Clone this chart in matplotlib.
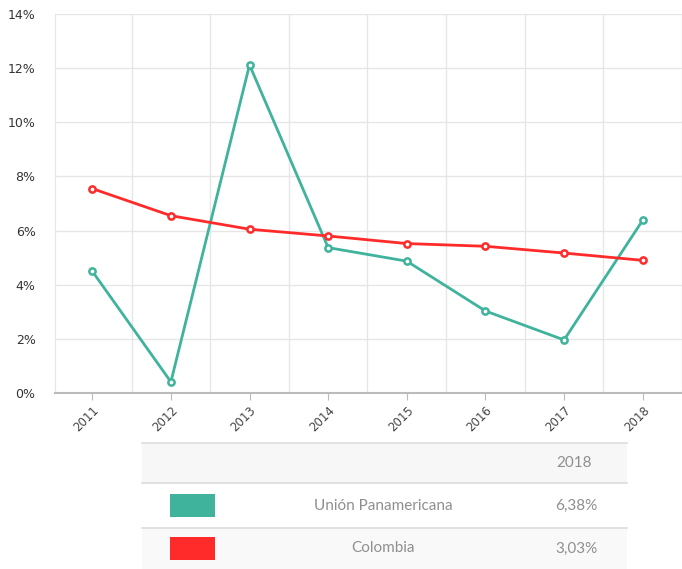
import matplotlib
matplotlib.use("Agg")
import matplotlib.pyplot as plt
from matplotlib.patches import Rectangle
from matplotlib.lines import Line2D
import numpy as np

years = ["2011", "2012", "2013", "2014", "2015", "2016", "2017", "2018"]
union = [4.50, 0.41, 12.12, 5.37, 4.87, 3.03, 1.96, 6.38]
colombia = [7.55, 6.55, 6.05, 5.80, 5.52, 5.42, 5.17, 4.90]
y_ticks = [0, 2, 4, 6, 8, 10, 12, 14]
table_header = "2018"
table_names = ["Unión Panamericana", "Colombia"]
table_values = ["6,38%", "3,03%"]

teal = "#3fb39b"
red = "#ff2b2b"
W, H = 682, 569

plt.rcParams["font.family"] = ["DejaVu Sans"]
fig = plt.figure(figsize=(W / 100, H / 100), dpi=100)
ax = fig.add_axes([55 / W, (H - 393) / H, (W - 55) / W, (393 - 14) / H])

x = np.arange(len(years))
ax.plot(x, union, color=teal, lw=2, marker="o", ms=4.5, mfc="white", mec=teal, mew=1.8, zorder=3)
ax.plot(x, colombia, color=red, lw=2, marker="o", ms=4.5, mfc="white", mec=red, mew=1.8, zorder=4)

ax.set_xlim(-(93 - 55) / 80.2, (682 - 93) / 80.2)
ax.set_ylim(0, 14)
ax.set_yticks(y_ticks)
ax.set_yticklabels([f"{v}%" for v in y_ticks], fontsize=9, color="#333333")
ax.set_xticks(x)
ax.set_xticklabels(years, rotation=45, ha="right", rotation_mode="anchor", fontsize=8.5, color="#444444")
ax.set_xticks(x + 0.5, minor=True)
ax.grid(True, which="major", axis="y", color="#e6e6e6", lw=1)
ax.grid(True, which="minor", axis="x", color="#e6e6e6", lw=1)
ax.tick_params(axis="y", length=0, pad=14)
ax.tick_params(axis="x", which="major", length=5, color="#bbbbbb", pad=3)
ax.tick_params(axis="x", which="minor", length=0)
for s in ["top", "right"]:
    ax.spines[s].set_visible(False)
ax.spines["left"].set_color("#e6e6e6")
ax.spines["bottom"].set_color("#bbbbbb")
ax.spines["bottom"].set_linewidth(1.5)
ax.set_axisbelow(True)

# table
tax = fig.add_axes([0, 0, 1, 1], zorder=5)
tax.set_xlim(0, W)
tax.set_ylim(H, 0)
tax.axis("off")
tx0, tx1 = 142, 627
rows = [(443, 483), (483, 528), (528, 569)]
bgs = ["#f7f7f7", "#ffffff", "#f9f9f9"]
for (y0, y1), bg in zip(rows, bgs):
    tax.add_patch(Rectangle((tx0, y0), tx1 - tx0, y1 - y0, facecolor=bg, edgecolor="none"))
for yl in [443, 483, 528]:
    tax.add_line(Line2D([tx0, tx1], [yl, yl], color="#dddddd", lw=1.2))
tcol = "#8f8f8f"
tfont = dict(family="Lato", fontsize=11, color=tcol, va="center")
tax.text(574, 463, table_header, ha="center", **tfont)
swatch_colors = [teal, red]
for i, (name, val) in enumerate(zip(table_names, table_values)):
    y0, y1 = rows[i + 1]
    yc = (y0 + y1) / 2
    tax.add_patch(Rectangle((170, yc - 11.5), 45, 23, facecolor=swatch_colors[i], edgecolor="none"))
    tax.text(383, yc, name, ha="center", **tfont)
    tax.text(576, yc, val, ha="center", **tfont)

fig.savefig("out.png", dpi=100)
